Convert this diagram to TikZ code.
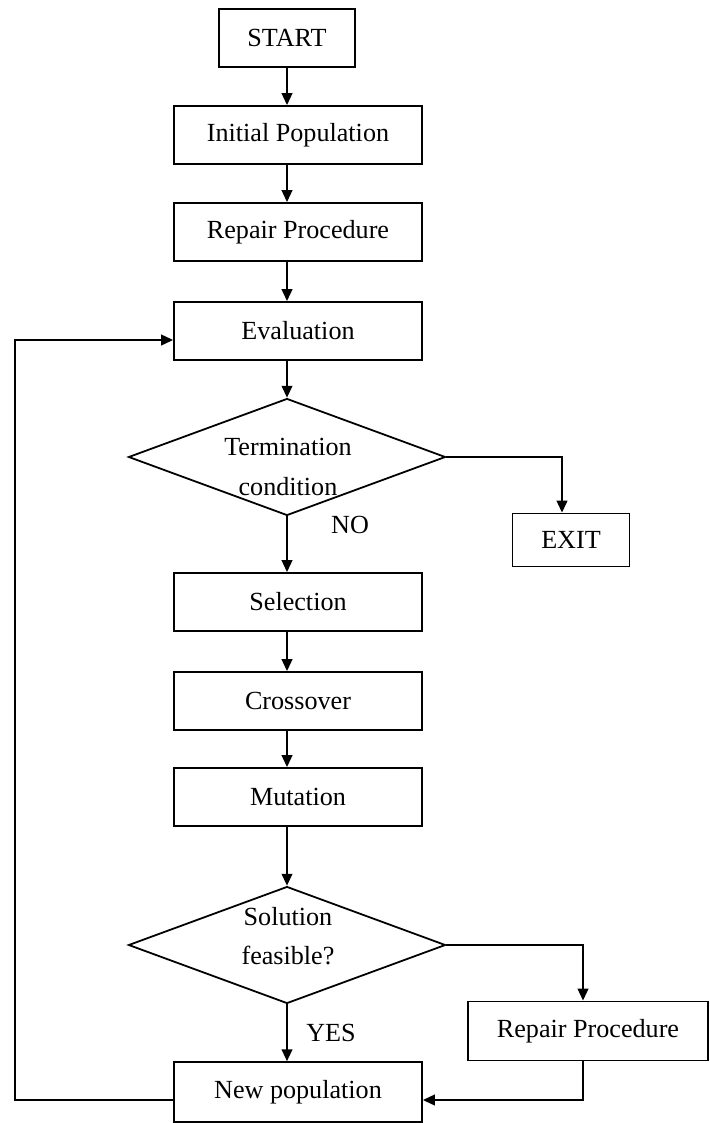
\documentclass[tikz,border=0pt]{standalone}
\usepackage{fontspec}
\setmainfont{Liberation Serif}
\usetikzlibrary{shapes.geometric, arrows.meta}

\begin{document}
\begin{tikzpicture}[x=0.02958cm, y=-0.02958cm,
        every node/.style={font=\fontsize{22}{33}\selectfont},
        box/.style={rectangle, draw, line width=1.5pt, minimum width=7.34cm, minimum height=1.72cm, inner sep=0pt},
        decision/.style={diamond, draw, line width=1.5pt, aspect=2.7, minimum width=9.38cm, minimum height=3.46cm, inner sep=0pt},
        flow/.style={line width=1.5pt, -{Triangle[length=10pt, width=9pt]}}]
        \useasboundingbox (0,0) rectangle (710,1123);

        % Draw nodes
        \node[box, minimum width=4.02cm] (1) at (287,38) {START};
        \node[box] (2) at (298,135) {Initial Population};
        \node[box] (3) at (298,232) {Repair Procedure};
        \node[box] (4) at (298,331) {Evaluation};
        \node[decision] (5) at (287,457) {};
        \node[align=center] (5t) at (288,467) {Termination\\condition};
        \node[box, minimum width=3.46cm, minimum height=1.57cm] (6) at (571,540) {EXIT};
        \node[box] (7) at (298,602) {Selection};
        \node[box] (8) at (298,701) {Crossover};
        \node[box] (9) at (298,797) {Mutation};
        \node[decision] (10) at (287,945) {};
        \node[align=center] (10t) at (288,936) {Solution\\feasible?};
        \node[box, minimum width=7.1cm, minimum height=1.75cm] (11) at (588,1031) {Repair Procedure};
        \node[box, minimum height=1.77cm] (12) at (298,1092) {New population};
        \node (no) at (350,525) {NO};
        \node (yes) at (331,1033) {YES};

        % Helper coordinates
        \coordinate (spine) at (287,0);
        \coordinate (exit) at (562,0);
        \coordinate (fix) at (583,0);
        \coordinate (low) at (0,1100);
        \coordinate (left) at (15,0);
        \coordinate (back) at (0,340);

        % Draw connections
        \draw[flow] (1.south) -- (1.south |- 2.north);
        \draw[flow] (spine |- 2.south) -- (spine |- 3.north);
        \draw[flow] (spine |- 3.south) -- (spine |- 4.north);
        \draw[flow] (spine |- 4.south) -- (5.north);
        \draw[flow] (5.east) -| (exit |- 6.north);
        \draw[flow] (5.south) -- (spine |- 7.north);
        \draw[flow] (spine |- 7.south) -- (spine |- 8.north);
        \draw[flow] (spine |- 8.south) -- (spine |- 9.north);
        \draw[flow] (spine |- 9.south) -- (10.north);
        \draw[flow] (10.east) -| (fix |- 11.north);
        \draw[flow] (10.south) -- (spine |- 12.north);
        \draw[flow] (fix |- 11.south) |- (12.east |- low);
        \draw[flow] (12.west |- low) -| (left |- back) -- (4.west |- back);
    \end{tikzpicture}
\end{document}
